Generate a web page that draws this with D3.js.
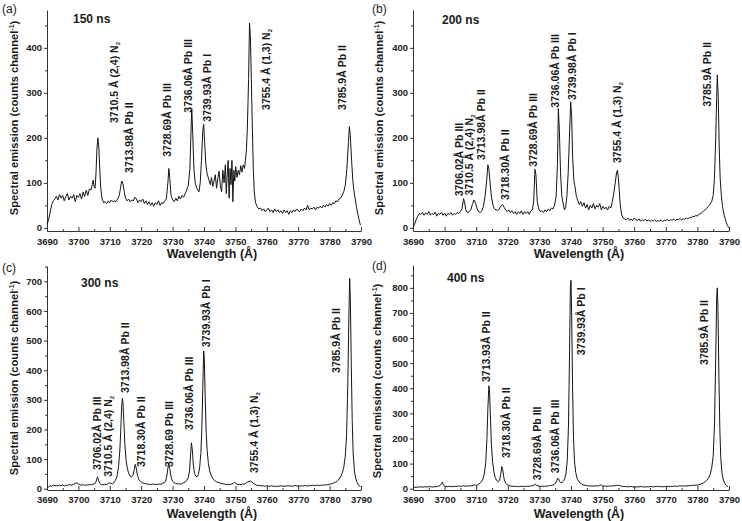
<!DOCTYPE html>
<html><head><meta charset="utf-8">
<script src="https://cdn.jsdelivr.net/npm/d3@7"></script>
<style>
body{margin:0;background:#fff}
svg text{font-family:"Liberation Sans",Arial,Helvetica,sans-serif}
</style></head>
<body><svg id="chart" width="742" height="521"></svg>
<script>
// ---------- DATA (wavelength Å, counts) ----------
const specA = [[3690,8],[3690.5,18],[3691,35],[3691.5,52],[3692,60],[3692.5,64],[3693,70],[3693.5,62],[3694,74],[3694.5,66],[3695,72],[3695.5,60],[3696,70],[3696.5,76],[3697,62],[3697.5,70],[3698,66],[3698.5,74],[3699,58],[3699.5,72],[3700,68],[3700.5,76],[3701,64],[3701.5,80],[3702,70],[3702.5,84],[3703,72],[3703.5,86],[3704,84],[3704.4,96],[3704.7,106],[3705,92],[3705.3,88],[3705.6,120],[3705.9,175],[3706.2,200],[3706.5,180],[3706.8,130],[3707.1,90],[3707.5,66],[3708,56],[3708.5,58],[3709,54],[3709.5,60],[3710,56],[3710.5,62],[3711,58],[3711.5,60],[3712,58],[3712.5,64],[3713,72],[3713.4,88],[3713.8,104],[3714.2,98],[3714.6,80],[3715,66],[3715.5,60],[3716,64],[3716.5,58],[3717,62],[3717.5,60],[3718,68],[3718.5,64],[3719,56],[3719.5,62],[3720,58],[3720.5,64],[3721,54],[3721.5,60],[3722,52],[3722.5,58],[3723,50],[3723.5,56],[3724,48],[3724.5,56],[3725,52],[3725.5,60],[3726,50],[3726.5,56],[3727,54],[3727.5,60],[3728,64],[3728.5,100],[3728.8,132],[3729.1,110],[3729.5,72],[3730,62],[3730.5,58],[3731,66],[3731.5,60],[3732,70],[3732.5,64],[3733,72],[3733.5,68],[3734,76],[3734.5,84],[3735,94],[3735.5,130],[3735.8,200],[3736.1,265],[3736.4,210],[3736.8,130],[3737.2,100],[3737.6,90],[3738,84],[3738.4,80],[3738.8,100],[3739.2,150],[3739.6,215],[3739.9,230],[3740.2,190],[3740.6,140],[3741,120],[3741.5,108],[3742,96],[3742.4,112],[3742.8,92],[3743.2,104],[3743.6,118],[3744,88],[3744.4,110],[3744.8,126],[3745.2,94],[3745.6,80],[3746,128],[3746.4,100],[3746.8,140],[3747.1,76],[3747.4,118],[3747.7,150],[3748,66],[3748.3,132],[3748.6,96],[3748.9,150],[3749.2,58],[3749.5,128],[3749.8,104],[3750.1,136],[3750.5,112],[3750.9,128],[3751.3,118],[3751.7,138],[3752.1,124],[3752.5,140],[3752.9,132],[3753.2,150],[3753.5,172],[3753.8,220],[3754.2,330],[3754.5,455],[3754.8,420],[3755.1,320],[3755.4,220],[3755.7,130],[3756,80],[3756.4,56],[3757,46],[3757.5,42],[3758,44],[3758.5,38],[3759,42],[3759.5,36],[3760,40],[3760.5,44],[3761,36],[3761.5,40],[3762,34],[3762.5,42],[3763,36],[3763.5,40],[3764,34],[3764.5,38],[3765,32],[3765.5,40],[3766,34],[3766.5,38],[3767,30],[3767.5,38],[3768,34],[3768.5,40],[3769,36],[3769.5,42],[3770,38],[3770.5,36],[3771,42],[3771.5,38],[3772,44],[3772.5,40],[3773,50],[3773.5,40],[3774,44],[3774.5,42],[3775,46],[3775.5,40],[3776,46],[3776.5,44],[3777,48],[3777.5,44],[3778,50],[3778.5,46],[3779,52],[3779.5,48],[3780,54],[3780.5,50],[3781,56],[3781.5,54],[3782,60],[3782.5,58],[3783,64],[3783.5,66],[3784,72],[3784.5,80],[3785,95],[3785.5,130],[3786,190],[3786.3,225],[3786.6,205],[3787,150],[3787.4,105],[3787.8,80],[3788.2,62],[3788.6,45],[3789,30],[3789.4,18],[3789.8,6]];

const specB = [[3690,0],[3690.5,8],[3691,18],[3691.5,26],[3692,32],[3692.5,30],[3693,34],[3693.5,28],[3694,33],[3694.5,30],[3695,36],[3695.5,28],[3696,32],[3696.5,30],[3697,35],[3697.5,26],[3698,32],[3698.5,30],[3699,34],[3699.5,28],[3700,33],[3700.5,26],[3701,32],[3701.5,30],[3702,34],[3702.5,28],[3703,32],[3703.5,30],[3704,34],[3704.5,32],[3705,36],[3705.5,42],[3706,65],[3706.3,58],[3706.7,40],[3707.2,34],[3707.8,36],[3708.3,40],[3708.8,52],[3709.3,62],[3709.8,55],[3710.3,42],[3710.8,36],[3711.3,34],[3711.8,38],[3712.3,48],[3712.8,70],[3713.3,105],[3713.7,140],[3714,132],[3714.4,100],[3714.8,70],[3715.3,50],[3715.8,42],[3716.3,40],[3716.8,38],[3717.3,42],[3717.8,48],[3718.3,52],[3718.8,46],[3719.3,40],[3719.8,36],[3720.3,40],[3720.8,34],[3721.3,38],[3721.8,32],[3722.3,36],[3722.8,30],[3723.3,36],[3723.8,32],[3724.3,38],[3724.8,30],[3725.3,36],[3725.8,32],[3726.3,36],[3726.8,30],[3727.3,38],[3727.8,40],[3728.2,60],[3728.6,130],[3728.9,118],[3729.3,60],[3729.8,42],[3730.3,36],[3730.8,38],[3731.3,34],[3731.8,40],[3732.3,36],[3732.8,42],[3733.3,38],[3733.8,44],[3734.3,42],[3734.8,50],[3735.3,70],[3735.7,140],[3736,265],[3736.3,220],[3736.7,120],[3737.1,70],[3737.5,55],[3737.9,40],[3738.3,45],[3738.7,70],[3739.1,120],[3739.5,200],[3739.9,280],[3740.2,250],[3740.5,160],[3740.9,105],[3741.3,90],[3741.7,70],[3742.1,62],[3742.6,52],[3743.1,58],[3743.6,48],[3744.1,56],[3744.6,44],[3745.1,52],[3745.6,40],[3746.1,50],[3746.6,44],[3747.1,54],[3747.6,42],[3748.1,50],[3748.6,46],[3749.1,54],[3749.6,40],[3750.1,48],[3750.6,42],[3751.1,46],[3751.6,40],[3752.1,48],[3752.6,44],[3753,56],[3753.5,75],[3754,100],[3754.4,122],[3754.7,128],[3755,110],[3755.3,80],[3755.6,50],[3756,30],[3756.5,22],[3757,20],[3757.5,18],[3758,22],[3758.5,17],[3759,20],[3759.5,16],[3760,22],[3760.5,18],[3761,16],[3761.5,20],[3762,15],[3762.5,18],[3763,16],[3763.5,19],[3764,15],[3764.5,18],[3765,14],[3765.5,17],[3766,15],[3766.5,18],[3767,14],[3767.5,16],[3768,15],[3768.5,18],[3769,14],[3769.5,17],[3770,16],[3770.5,19],[3771,15],[3771.5,18],[3772,17],[3772.5,20],[3773,16],[3773.5,19],[3774,18],[3774.5,21],[3775,18],[3775.5,20],[3776,19],[3776.5,22],[3777,20],[3777.5,23],[3778,22],[3778.5,26],[3779,24],[3779.5,28],[3780,26],[3780.5,30],[3781,32],[3781.5,34],[3782,38],[3782.5,40],[3783,44],[3783.5,48],[3784,52],[3784.5,58],[3785,72],[3785.4,110],[3785.8,200],[3786.1,290],[3786.3,340],[3786.6,290],[3786.9,180],[3787.2,110],[3787.6,70],[3788,45],[3788.5,28],[3789,15],[3789.5,5],[3790,0]];

const specC = [[3690,2],[3690.5,6],[3691,10],[3691.5,8],[3692,12],[3692.5,10],[3693,11],[3693.5,9],[3694,12],[3694.5,10],[3695,13],[3695.5,9],[3696,12],[3696.5,11],[3697,14],[3697.5,12],[3698,13],[3698.5,15],[3699,18],[3699.5,20],[3700,16],[3700.5,13],[3701,12],[3701.5,14],[3702,11],[3702.5,13],[3703,12],[3703.5,14],[3704,13],[3704.5,15],[3705,16],[3705.5,20],[3705.8,30],[3706.1,40],[3706.4,28],[3706.8,18],[3707.3,14],[3707.8,13],[3708.3,15],[3708.8,14],[3709.3,16],[3709.8,20],[3710.3,18],[3710.8,16],[3711.3,20],[3711.8,28],[3712.3,42],[3712.8,75],[3713.2,130],[3713.5,200],[3713.8,280],[3714,305],[3714.2,290],[3714.5,220],[3714.8,150],[3715.2,95],[3715.6,68],[3716,52],[3716.5,42],[3717,40],[3717.4,46],[3717.8,65],[3718.1,82],[3718.4,70],[3718.8,45],[3719.3,30],[3719.8,24],[3720.3,20],[3720.8,18],[3721.3,17],[3721.8,16],[3722.3,15],[3722.8,15],[3723.3,14],[3723.8,16],[3724.3,14],[3724.8,15],[3725.3,14],[3725.8,16],[3726.3,15],[3726.8,18],[3727.3,20],[3727.8,26],[3728.2,45],[3728.5,70],[3728.8,83],[3729.1,68],[3729.5,40],[3730,25],[3730.5,20],[3731,18],[3731.5,16],[3732,17],[3732.5,15],[3733,18],[3733.5,20],[3734,22],[3734.5,28],[3735,38],[3735.4,60],[3735.7,110],[3736,155],[3736.3,130],[3736.6,80],[3737,52],[3737.4,42],[3737.8,40],[3738.2,48],[3738.6,70],[3739,120],[3739.3,200],[3739.6,330],[3739.9,465],[3740.1,440],[3740.4,300],[3740.7,190],[3741,130],[3741.4,85],[3741.8,60],[3742.3,45],[3742.8,35],[3743.3,28],[3743.8,24],[3744.3,22],[3744.8,20],[3745.3,18],[3745.8,17],[3746.3,16],[3746.8,15],[3747.3,14],[3747.8,15],[3748.3,14],[3748.8,16],[3749.3,18],[3749.8,22],[3750.3,16],[3750.8,14],[3751.3,15],[3751.8,13],[3752.3,16],[3752.8,15],[3753.3,18],[3753.8,22],[3754.3,24],[3754.8,26],[3755.3,22],[3755.8,18],[3756.3,14],[3756.8,12],[3757.5,10],[3758,11],[3758.5,9],[3759,10],[3759.5,8],[3760,10],[3760.5,9],[3761,8],[3761.5,10],[3762,8],[3762.5,9],[3763,7],[3763.5,9],[3764,8],[3764.5,10],[3765,8],[3765.5,9],[3766,8],[3766.5,10],[3767,9],[3767.5,10],[3768,8],[3768.5,9],[3769,11],[3769.5,9],[3770,10],[3770.5,8],[3771,10],[3771.5,9],[3772,11],[3772.5,10],[3773,9],[3773.5,11],[3774,10],[3774.5,12],[3775,10],[3775.5,11],[3776,12],[3776.5,10],[3777,12],[3777.5,11],[3778,13],[3778.5,12],[3779,14],[3779.5,13],[3780,15],[3780.5,16],[3781,18],[3781.5,20],[3782,23],[3782.5,27],[3783,32],[3783.5,40],[3784,52],[3784.5,72],[3785,110],[3785.4,180],[3785.8,350],[3786.1,560],[3786.4,710],[3786.6,640],[3786.9,420],[3787.2,230],[3787.5,120],[3787.9,60],[3788.3,35],[3788.8,20],[3789.3,12],[3789.8,6]];

const specD = [[3690,3],[3690.5,6],[3691,5],[3691.5,7],[3692,6],[3692.5,8],[3693,6],[3693.5,7],[3694,8],[3694.5,6],[3695,9],[3695.5,7],[3696,8],[3696.5,6],[3697,9],[3697.5,8],[3698,10],[3698.5,12],[3699,20],[3699.3,26],[3699.6,16],[3700,10],[3700.5,9],[3701,8],[3701.5,10],[3702,8],[3702.5,9],[3703,8],[3703.5,10],[3704,9],[3704.5,11],[3705,9],[3705.5,10],[3706,12],[3706.5,10],[3707,11],[3707.5,10],[3708,12],[3708.5,11],[3709,13],[3709.5,15],[3710,13],[3710.5,16],[3711,20],[3711.5,26],[3712,35],[3712.5,55],[3713,100],[3713.4,200],[3713.7,320],[3714,410],[3714.2,395],[3714.5,290],[3714.8,180],[3715.2,105],[3715.6,68],[3716,45],[3716.5,32],[3717,28],[3717.4,34],[3717.8,60],[3718.1,88],[3718.4,75],[3718.8,40],[3719.3,22],[3719.8,16],[3720.3,13],[3720.8,11],[3721.3,10],[3721.8,9],[3722.3,10],[3722.8,8],[3723.3,9],[3723.8,8],[3724.3,10],[3724.8,8],[3725.3,9],[3725.8,10],[3726.3,9],[3726.8,10],[3727.3,11],[3727.8,12],[3728.3,14],[3728.7,18],[3729.1,14],[3729.6,11],[3730.1,10],[3730.6,9],[3731.1,10],[3731.6,9],[3732.1,11],[3732.6,10],[3733.1,12],[3733.6,13],[3734.1,14],[3734.6,17],[3735.1,22],[3735.5,32],[3735.8,42],[3736.1,38],[3736.4,28],[3736.8,24],[3737.2,25],[3737.6,30],[3738,40],[3738.4,60],[3738.8,110],[3739.2,250],[3739.5,500],[3739.8,800],[3740,830],[3740.2,700],[3740.5,400],[3740.8,200],[3741.1,110],[3741.5,65],[3741.9,42],[3742.4,30],[3742.9,22],[3743.4,18],[3743.9,15],[3744.4,14],[3744.9,12],[3745.4,11],[3745.9,12],[3746.4,10],[3746.9,11],[3747.4,10],[3747.9,12],[3748.4,10],[3748.9,13],[3749.4,15],[3749.9,12],[3750.4,10],[3750.9,11],[3751.4,9],[3751.9,10],[3752.4,11],[3752.9,10],[3753.4,12],[3753.9,11],[3754.4,13],[3754.9,14],[3755.4,12],[3755.9,10],[3756.5,9],[3757,8],[3757.5,9],[3758,7],[3758.5,8],[3759,9],[3759.5,7],[3760,8],[3760.5,6],[3761,8],[3761.5,7],[3762,9],[3762.5,7],[3763,8],[3763.5,6],[3764,8],[3764.5,7],[3765,9],[3765.5,8],[3766,7],[3766.5,9],[3767,8],[3767.5,10],[3768,8],[3768.5,9],[3769,7],[3769.5,9],[3770,8],[3770.5,10],[3771,9],[3771.5,8],[3772,10],[3772.5,9],[3773,11],[3773.5,9],[3774,10],[3774.5,12],[3775,10],[3775.5,11],[3776,10],[3776.5,12],[3777,11],[3777.5,13],[3778,12],[3778.5,14],[3779,13],[3779.5,15],[3780,14],[3780.5,16],[3781,18],[3781.5,20],[3782,24],[3782.5,28],[3783,34],[3783.5,42],[3784,56],[3784.5,80],[3785,130],[3785.4,250],[3785.8,520],[3786.1,760],[3786.3,800],[3786.5,720],[3786.8,450],[3787.1,240],[3787.4,120],[3787.8,60],[3788.2,35],[3788.7,20],[3789.2,12],[3789.7,7]];

// line annotations: text, wavelength of label, counts where the label starts
const linesA = ["3710.5 Å (2,4) N_2","3713.98Å Pb II","3728.69Å Pb III","3736.06Å Pb III","3739.93Å Pb I","3755.4 Å (1,3) N_2","3785.9Å Pb II"];
const lineWaveA = [3711.6, 3716.3, 3728.2, 3735.0, 3741.0, 3760.0, 3784.0];
const lineLevelA = [233, 122, 158, 256, 236, 262, 262];

const linesB = ["3706.02Å Pb III","3710.5 Å (2,4) N_2","3713.98Å Pb II","3718.30Å Pb II","3728.69Å Pb III","3736.06Å Pb III","3739.98Å Pb I","3755.4 Å (1,3) N_2","3785.9Å Pb II"];
const lineWaveB = [3704.8, 3708.0, 3711.6, 3719.1, 3728.2, 3735.2, 3740.4, 3754.6, 3783.2];
const lineLevelB = [70, 72, 151, 62, 136, 267, 284, 144, 269];

const linesC = ["3706.02Å Pb III","3710.5 Å (2,4) N_2","3713.98Å Pb II","3718.30Å Pb II","3728.69 Pb III","3736.06Å Pb III","3739.93Å Pb I","3755.4 Å (1,3) N_2","3785.9Å Pb II"];
const lineWaveC = [3706.0, 3709.6, 3715.0, 3720.0, 3729.1, 3735.4, 3740.9, 3756.2, 3782.3];
const lineLevelC = [63, 40, 323, 73, 73, 198, 478, 53, 391];

const linesD = ["3713.93Å Pb II","3718.30Å Pb II","3728.69Å Pb III","3736.06Å Pb III","3739.93Å Pb I","3785.9Å Pb II"];
const lineWaveD = [3713.1, 3719.7, 3729.3, 3735.1, 3743.2, 3782.3];
const lineLevelD = [425, 122, 34, 62, 532, 493];

const panelTags = ["(a)","(b)","(c)","(d)"];
const delays = ["150 ns","200 ns","300 ns","400 ns"];
const xTicks = [3690,3700,3710,3720,3730,3740,3750,3760,3770,3780,3790];
const yTicksTop = [0,100,200,300,400];
const yTicksC = [0,100,200,300,400,500,600,700];
const yTicksD = [0,100,200,300,400,500,600,700,800];
const xTitle = "Wavelength (Å)";
const yTitle = "Spectral emission (counts channel";

// ---------- LAYOUT ----------
const svg = d3.select("#chart");
const panels = [
  {spec:specA, txt:linesA, lw:lineWaveA, ll:lineLevelA, xr:[47,361], yr:[231,10], yd:[-7,484.1], yt:yTicksTop, ymax:450, tagX:2, tagY:13, tX:73, tY:23, ytX:18, ytY:118, xtY:258, lblPad:7},
  {spec:specB, txt:linesB, lw:lineWaveB, ll:lineLevelB, xr:[413,729], yr:[231,10], yd:[-7,484.1], yt:yTicksTop, ymax:450, tagX:372, tagY:13, tX:442, tY:24, ytX:383, ytY:118, xtY:258, lblPad:7},
  {spec:specC, txt:linesC, lw:lineWaveC, ll:lineLevelC, xr:[47,361], yr:[490,266], yd:[-4.4,752], yt:yTicksC, ymax:750, tagX:2, tagY:272, tX:81, tY:287, ytX:18, ytY:378, xtY:518, lblPad:6},
  {spec:specD, txt:linesD, lw:lineWaveD, ll:lineLevelD, xr:[413,729], yr:[490,265], yd:[-5.2,891], yt:yTicksD, ymax:850, tagX:372, tagY:270, tX:447, tY:282, ytX:381, ytY:381, xtY:518, lblPad:6}
];

panels.forEach((p,i)=>{
  const x = d3.scaleLinear().domain([3690,3790]).range(p.xr);
  const y = d3.scaleLinear().domain(p.yd).range(p.yr);
  const g = svg.append("g");

  const yMinor = d3.range(50, p.ymax+1, 100);
  const xMinor = d3.range(3695, 3790, 10);

  g.append("g").attr("transform",`translate(${p.xr[0]},0)`)
    .call(d3.axisLeft(y).tickValues(p.yt).tickSize(3).tickPadding(2).tickSizeOuter(0));
  g.append("g").attr("transform",`translate(${p.xr[0]},0)`)
    .call(d3.axisLeft(y).tickValues(yMinor).tickSize(2).tickFormat("").tickSizeOuter(0))
    .select(".domain").remove();
  g.append("g").attr("transform",`translate(0,${p.yr[0]})`)
    .call(d3.axisBottom(x).tickValues(xTicks).tickSize(-4).tickPadding(p.lblPad).tickSizeOuter(0).tickFormat(d3.format("d")));
  g.append("g").attr("transform",`translate(0,${p.yr[0]})`)
    .call(d3.axisBottom(x).tickValues(xMinor).tickSize(-2).tickFormat("").tickSizeOuter(0))
    .select(".domain").remove();

  g.selectAll(".domain").attr("stroke","#333").attr("stroke-width",1);
  g.selectAll(".tick line").attr("stroke","#333");
  g.selectAll(".tick text").attr("font-size",9.5).attr("font-weight","bold")
    .attr("font-family","'Liberation Sans',Arial,sans-serif").attr("fill","#222");

  g.append("path").datum(p.spec)
    .attr("fill","none").attr("stroke","#151515").attr("stroke-width",1)
    .attr("stroke-linejoin","round")
    .attr("d", d3.line().x(d=>x(d[0])).y(d=>y(d[1])));

  p.txt.forEach((t,k)=>{
    const tx = x(p.lw[k]) + 3.6, ty = y(p.ll[k]);
    const te = g.append("text").attr("transform",`translate(${tx},${ty}) rotate(-90)`)
      .attr("font-size",10.5).attr("font-weight","bold").attr("fill","#1a1a1a");
    const parts = t.split("_");
    te.append("tspan").text(parts[0]);
    if(parts.length>1){
      te.append("tspan").attr("font-size",6).attr("dy",2).text(parts[1]);
    }
  });

  svg.append("text").attr("x",p.tagX).attr("y",p.tagY).attr("font-size",12).attr("fill","#222").text(panelTags[i]);
  svg.append("text").attr("x",p.tX).attr("y",p.tY).attr("font-size",12).attr("font-weight","bold").attr("fill","#1a1a1a").text(delays[i]);

  const cx = (p.xr[0]+p.xr[1])/2 + 8;
  svg.append("text").attr("x",cx).attr("y",p.xtY).attr("text-anchor","middle")
    .attr("font-size",12.5).attr("font-weight","bold").attr("fill","#1a1a1a").text(xTitle);
  const yt = svg.append("text").attr("transform",`translate(${p.ytX},${p.ytY}) rotate(-90)`)
    .attr("text-anchor","middle").attr("font-size",11.2).attr("font-weight","bold").attr("fill","#1a1a1a");
  yt.append("tspan").text(yTitle);
  yt.append("tspan").attr("font-size",7).attr("dy",-4.5).text("-1");
  yt.append("tspan").attr("dy",4.5).text(")");
});
</script>
</body></html>
